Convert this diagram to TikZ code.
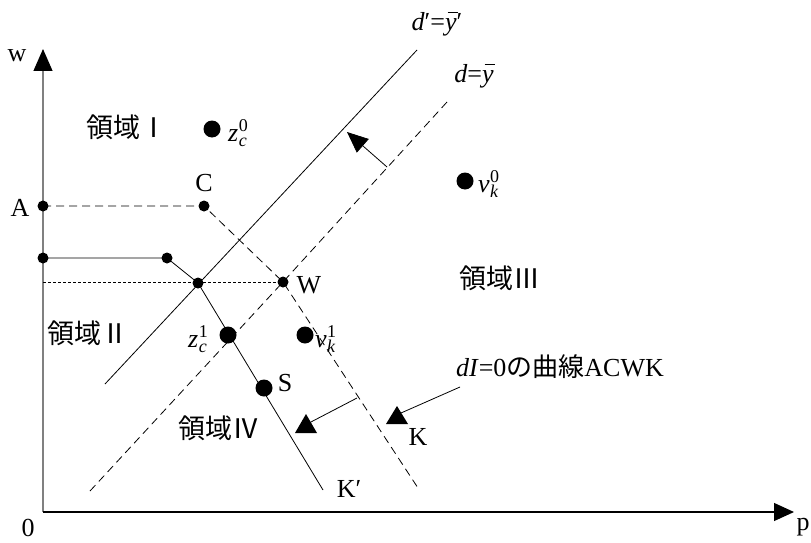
\documentclass[tikz,border=0pt]{standalone}
\usepackage{fontspec}
\setmainfont{Liberation Serif}
\newfontfamily\cjk{Noto Sans CJK JP}
\usetikzlibrary{arrows.meta}
\newcommand\labsz{\fontsize{26}{30}\selectfont}
\newcommand\scrsz{\fontsize{18}{18}\selectfont}
\newcommand\subsupx[3]{\textit{#1}\kern0.5pt\rlap{\raisebox{-5pt}{\scrsz\itshape #2}}\raisebox{10pt}{\scrsz #3}}
\newcommand\ybar{\textit{y}\makebox[0pt][r]{\rule[18pt]{10pt}{1pt}\kern-1pt}}
\tikzset{
  lab/.style={font=\labsz, inner sep=1pt},
  region/.style={font=\cjk\fontsize{27}{31}\selectfont, inner sep=1pt},
  sdot/.style={circle, fill=black, inner sep=0pt, minimum size=11pt},
  bdot/.style={circle, fill=black, inner sep=0pt, minimum size=17pt},
  thinline/.style={line width=0.8pt},
  dashline/.style={line width=0.8pt, dash pattern=on 8pt off 5pt},
  dotline/.style={line width=0.8pt, dash pattern=on 3pt off 2pt},
  tri/.style={fill=black},
}
\begin{document}
\begin{tikzpicture}[x=1pt,y=-1pt]
\useasboundingbox (0,0) rectangle (811,543);
% axes
\coordinate (O) at (43,512);
\coordinate (ytip) at (43,49);
\coordinate (xtip) at (794,512);
\draw[gray, line width=1.2pt, -{Triangle[length=22pt,width=19pt,color=black]}] (O) -- (ytip);
\draw[line width=1.2pt, -{Triangle[length=20pt,width=18pt]}] (O) -- (xtip);
\node[lab] (wl) at (17,56) {w};
\node[lab] (pl) at (803,527) {p};
\node[lab] (zero) at (28,528) {0};
% points
\node[sdot] (A) at (43,206) {};
\node[sdot] (C) at (204,206) {};
\node[sdot] (B1) at (43,258) {};
\node[sdot] (B2) at (167,258) {};
\node[sdot] (P) at (198,283) {};
\node[sdot] (W) at (283,282) {};
\coordinate (Kend) at (418,488);
\coordinate (Kpend) at (323,490);
\coordinate (dpA) at (105,384);
\coordinate (dpB) at (417,50);
\coordinate (dA) at (90,491);
\coordinate (dB) at (447,102);
\coordinate (Wl) at (43,282);
% lines
\draw[dashline] (A.center) -- (C.center) -- (W.center) -- (Kend);
\draw[dotline] (Wl) -- (W.center);
\draw[thinline] (B1.center) -- (B2.center) -- (P.center) -- (Kpend);
\draw[thinline] (dpA) -- (dpB);
\draw[dashline] (dA) -- (W.center) -- (dB);
% big dots
\node[bdot] (zc0) at (212,129) {};
\node[bdot] (vk0) at (465,181) {};
\node[bdot] (zc1) at (228,335) {};
\node[bdot] (vk1) at (305,335) {};
\node[bdot] (S) at (264,388) {};
% arrows
\coordinate (u1) at (387,167);
\coordinate (u2) at (347,132);
\draw[thinline, -{Triangle[length=21pt,width=18pt]}] (u1) -- (u2);
\coordinate (l1a) at (357,398);
\coordinate (l1b) at (309,423);
\draw[thinline] (l1a) -- (l1b);
\fill[tri] (295,433) -- (317,433) -- (306,414) -- cycle;
\coordinate (l2a) at (460,387);
\coordinate (l2b) at (401,413);
\draw[thinline] (l2a) -- (l2b);
\fill[tri] (386,424) -- (408,424) -- (397,406) -- cycle;
% labels
\node[lab] (Al) at (20,208) {A};
\node[lab] (Cl) at (204,183) {C};
\node[lab] (Wlab) at (309,285) {W};
\node[lab] (Sl) at (285,383) {S};
\node[lab] (Kl) at (418,437) {K};
\node[lab] (Kpl) at (349,489) {K′};
\node[lab, anchor=west] (zc0l) at (227,133) {\subsupx{z}{c}{0}};
\node[lab, anchor=west] (vk0l) at (477,184) {\subsupx{v}{k}{0}};
\node[lab, anchor=east] (zc1l) at (209,339) {\subsupx{z}{c}{1}};
\node[lab, anchor=west] (vk1l) at (314,339) {\subsupx{v}{k}{1}};
\node[lab] (dprime) at (437,24) {\textit{d}′=\ybar′};
\node[lab] (dlab) at (474,76) {\textit{d}=\ybar};
\node[lab] (dI) at (560,367) {\textit{dI}=0{\cjk の曲線}ACWK};
\node[region] (r1) at (127,127) {領域Ⅰ};
\node[region] (r2) at (88,333) {領域Ⅱ};
\node[region] (r3) at (500,278) {領域Ⅲ};
\node[region] (r4) at (219,428) {領域Ⅳ};
\end{tikzpicture}
\end{document}
